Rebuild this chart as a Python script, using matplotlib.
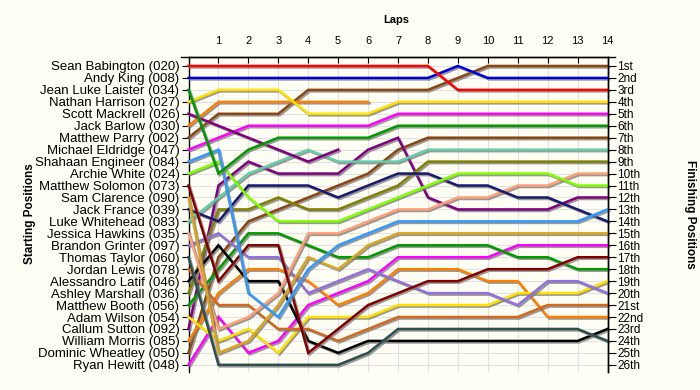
import matplotlib
matplotlib.use("Agg")
import matplotlib.pyplot as plt
import matplotlib.patheffects as pe
from matplotlib.lines import Line2D

plt.rcParams["font.family"] = ["Liberation Sans", "DejaVu Sans"]

laps = list(range(0, 15))
lap_labels = [""] + [str(i) for i in range(1, 15)]

drivers = [
    "Sean Babington (020)", "Andy King (008)", "Jean Luke Laister (034)",
    "Nathan Harrison (027)", "Scott Mackrell (026)", "Jack Barlow (030)",
    "Matthew Parry (002)", "Michael Eldridge (047)", "Shahaan Engineer (084)",
    "Archie White (024)", "Matthew Solomon (073)", "Sam Clarence (090)",
    "Jack France (039)", "Luke Whitehead (083)", "Jessica Hawkins (035)",
    "Brandon Grinter (097)", "Thomas Taylor (060)", "Jordan Lewis (078)",
    "Alessandro Latif (046)", "Ashley Marshall (036)", "Matthew Booth (056)",
    "Adam Wilson (054)", "Callum Sutton (092)", "William Morris (085)",
    "Dominic Wheatley (050)", "Ryan Hewitt (048)",
]

finish_labels = [
    "1st", "2nd", "3rd", "4th", "5th", "6th", "7th", "8th", "9th", "10th",
    "11th", "12th", "13th", "14th", "15th", "16th", "17th", "18th", "19th",
    "20th", "21st", "22nd", "23rd", "24th", "25th", "26th",
]

# position of each driver at the end of each lap (lap 0 = grid)
pos_babington = [1, 1, 1, 1, 1, 1, 1, 1, 1, 3, 3, 3, 3, 3, 3]
pos_king = [2, 2, 2, 2, 2, 2, 2, 2, 2, 1, 2, 2, 2, 2, 2]
pos_laister = [3, 10, 8, 7, 7, 7, 7, 6, 6, 6, 6, 6, 6, 6, 6]
pos_harrison = [4, 3, 3, 3, 5, 5, 5, 4, 4, 4, 4, 4, 4, 4, 4]
pos_mackrell = [5, 6, 7, 8, 9, 8]
pos_barlow = [6, 4, 4, 4, 4, 4, 4]
pos_parry = [7, 5, 5, 5, 3, 3, 3, 3, 3, 2, 1, 1, 1, 1, 1]
pos_eldridge = [8, 7, 6, 6, 6, 6, 6, 5, 5, 5, 5, 5, 5, 5, 5]
pos_engineer = [9, 8, 20, 22, 18, 16, 15, 14, 14, 14, 14, 14, 14, 14, 13]
pos_white = [10, 9, 12, 14, 14, 14, 13, 12, 11, 10, 10, 10, 10, 11, 11]
pos_solomon = [11, 19, 16, 16, 25, 23, 21, 20, 19, 19, 18, 18, 18, 17, 17]
pos_clarence = [12, 25, 24, 21, 17, 18, 16, 15, 15, 15, 15, 15, 15, 15, 15]
pos_france = [13, 14, 11, 11, 11, 12, 11, 10, 10, 11, 11, 12, 12, 13, 14]
pos_whitehead = [14, 12, 10, 9, 8, 9, 9, 9, 8, 8, 8, 8, 8, 8, 8]
pos_hawkins = [15, 23, 22, 20, 15, 15, 14, 13, 13, 12, 12, 11, 11, 10, 10]
pos_grinter = [16, 15, 17, 17, 20, 19, 18, 19, 20, 20, 20, 21, 19, 19, 20]
pos_taylor = [17, 26, 26, 26, 26, 26, 25, 23, 23, 23, 23, 23, 23, 23, 24]
pos_lewis = [18, 21, 21, 23, 23, 24, 23, 22, 22, 22, 22, 22, 21, 21, 21]
pos_latif = [19, 16, 19, 19, 24, 25, 24, 24, 24, 24, 24, 24, 24, 24, 23]
pos_marshall = [20, 13, 13, 12, 13, 13, 12, 11, 9, 9, 9, 9, 9, 9, 9]
pos_booth = [21, 18, 15, 15, 16, 17, 17, 16, 16, 16, 16, 17, 17, 18, 18]
pos_wilson = [22, 24, 23, 25, 22, 22, 22, 21, 21, 21, 21, 20, 20, 20, 19]
pos_sutton = [23, 11, 9, 10, 10, 10, 8, 7, 12, 13, 13, 13, 13, 12, 12]
pos_morris = [24, 20, 18, 18, 19, 21, 20, 18, 18, 18, 19, 19, 22, 22, 22]
pos_wheatley = [25, 17, 14, 13, 12, 11, 10, 8, 7, 7, 7, 7, 7, 7, 7]
pos_hewitt = [26, 22, 25, 24, 21, 20, 19, 17, 17, 17, 17, 16, 16, 16, 16]

all_positions = [
    pos_babington, pos_king, pos_laister, pos_harrison, pos_mackrell,
    pos_barlow, pos_parry, pos_eldridge, pos_engineer, pos_white,
    pos_solomon, pos_clarence, pos_france, pos_whitehead, pos_hawkins,
    pos_grinter, pos_taylor, pos_lewis, pos_latif, pos_marshall,
    pos_booth, pos_wilson, pos_sutton, pos_morris, pos_wheatley, pos_hewitt,
]

colors = [
    "#FF0000", "#0000D8", "#009900", "#FFE000", "#800080", "#FF8000",
    "#8B4513", "#FF00FF", "#3399FF", "#80FF00", "#800000", "#DAA520",
    "#191970", "#66CDAA", "#FFA07A", "#9370DB", "#2F4F4F", "#D2691E",
    "#000000", "#808000", "#009900", "#FFE000", "#800080", "#FF8000",
    "#8B4513", "#FF00FF",
]

BG = "#FFFEF4"
W, H = 700, 390

fig = plt.figure(figsize=(7, 3.9), dpi=100, facecolor=BG)
ax = fig.add_axes([188.5 / W, 1 - 372 / H, 419 / W, 315 / H])
ax.set_facecolor(BG)

shadow = [pe.SimpleLineShadow(offset=(1.1, -1.1), shadow_color="#777777", alpha=0.75),
          pe.Normal()]
for i, (pos, col) in enumerate(zip(all_positions, colors)):
    ax.plot(laps[:len(pos)], pos, color=col, lw=1.8, solid_joinstyle="miter",
            path_effects=shadow, zorder=3 + (26 - i) * 0.01, clip_on=False)

ax.set_xlim(0, 14)
ax.set_ylim(26.6, 0.25)
ax.set_xticks(laps)
ax.set_xticklabels(lap_labels, fontsize=8)
ax.xaxis.tick_top()
ax.tick_params(axis="x", direction="in", length=4, width=0.8, pad=8, colors="black")
ax.set_yticks(range(1, 27))
ax.set_yticklabels(drivers, fontsize=9.5)
ax.tick_params(axis="y", direction="out", length=5, width=0.8, pad=1.5)
ax.grid(True, color="#E2E2E2", lw=0.8, zorder=0)
ax.set_axisbelow(True)
for s in ["top", "left", "right"]:
    ax.spines[s].set_color("black")
    ax.spines[s].set_linewidth(1.0)
ax.spines["bottom"].set_visible(False)

ax2 = ax.twinx()
ax2.set_ylim(26.6, 0.25)
ax2.set_yticks(range(1, 27))
ax2.set_yticklabels(finish_labels, fontsize=8.5)
ax2.tick_params(axis="y", direction="out", length=6, width=0.8, pad=1)
for s in ["top", "left", "bottom"]:
    ax2.spines[s].set_visible(False)
ax2.spines["right"].set_linewidth(1.0)

# extended top axis line
fig.add_artist(Line2D([181 / W, 615 / W], [1 - 57 / H, 1 - 57 / H],
                      transform=fig.transFigure, color="black", lw=1.0))

fig.text(396 / W, 1 - 20 / H, "Laps", ha="center", va="center",
         fontsize=8, fontweight="bold")
fig.text(30 / W, 1 - 214 / H, "Starting Positions", ha="center", va="center",
         rotation=90, fontsize=8.5, fontweight="bold")
fig.text(690 / W, 1 - 214 / H, "Finishing Positions", ha="center", va="center",
         rotation=270, fontsize=8.5, fontweight="bold")

fig.savefig("out.png", dpi=100, facecolor=BG)
